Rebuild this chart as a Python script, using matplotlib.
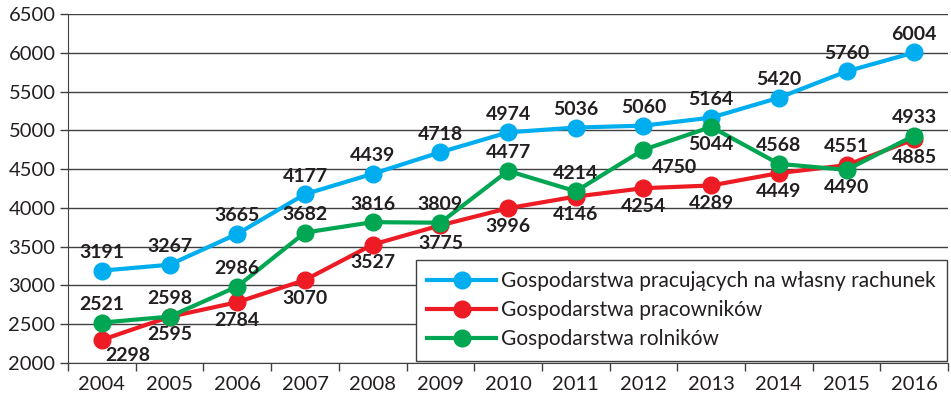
import matplotlib
matplotlib.use('Agg')
import matplotlib.pyplot as plt
import numpy as np

plt.rcParams['font.family'] = ['Lato', 'DejaVu Sans']

years = ['2004', '2005', '2006', '2007', '2008', '2009', '2010',
         '2011', '2012', '2013', '2014', '2015', '2016']
self_employed = [3191, 3267, 3665, 4177, 4439, 4718, 4974, 5036, 5060, 5164, 5420, 5760, 6004]
employees = [2298, 2595, 2784, 3070, 3527, 3775, 3996, 4146, 4254, 4289, 4449, 4551, 4885]
farmers = [2521, 2598, 2986, 3682, 3816, 3809, 4477, 4214, 4750, 5044, 4568, 4490, 4933]

names = ['Gospodarstwa pracujących na własny rachunek',
         'Gospodarstwa pracowników',
         'Gospodarstwa rolników']
colors = ['#00AEEF', '#ED1C24', '#00A651']

# label placement: (dx px, dy px) per point
pos_blue = [(0, 18)] * 13
pos_red = [(26, -16), (0, -18), (0, -18), (0, -18), (0, -18), (0, -18), (0, -18),
           (0, -18), (0, -18), (0, -18), (0, -18), (0, 19), (0, -18)]
pos_green = [(0, 18), (0, 18), (0, 18), (0, 18), (0, 18), (0, 18), (0, 18),
             (0, 18), (31, -18), (0, -18), (0, 18), (0, -18), (0, 18)]

fig = plt.figure(figsize=(9.51, 4.0), dpi=100)
ax = fig.add_axes([0.0715, 0.0925, 0.9255, 0.8725])

x = np.arange(len(years))
for vals, col, name in zip([self_employed, employees, farmers], colors, names):
    ax.plot(x, vals, color=col, lw=3, marker='o', markersize=12, label=name, zorder=3)
for vals, pos in zip([self_employed, employees, farmers], [pos_blue, pos_red, pos_green]):
    for xi, v, (dx, dy) in zip(x, vals, pos):
        ax.annotate(str(v), (xi, v), xytext=(dx * 0.72, dy * 0.72), textcoords='offset points',
                    ha='center', va='center', fontsize=14, fontweight='bold', color='#231F20',
                    zorder=4)

ax.set_xlim(-0.5, 12.5)
ax.set_ylim(2000, 6500)
ax.set_yticks(np.arange(2000, 6501, 500))
ax.set_xticks(x)
ax.set_xticklabels(years)
ax.set_xticks(np.arange(-0.5, 12.6, 1), minor=True)
ax.tick_params(axis='x', which='major', length=0, labelsize=14.5, pad=9, colors='#231F20')
ax.tick_params(axis='x', which='minor', length=6, width=1, color='#404040')
ax.tick_params(axis='y', length=6, width=1, labelsize=14.5, pad=3, color='#404040',
               labelcolor='#231F20')
ax.grid(axis='y', color='#404040', lw=1)
ax.set_axisbelow(True)
for s in ['top', 'right']:
    ax.spines[s].set_visible(False)
ax.spines['left'].set_color('#404040')
ax.spines['bottom'].set_color('#404040')

leg = ax.legend(loc='lower right', bbox_to_anchor=(0.996, 0.098), bbox_transform=fig.transFigure,
                fontsize=15, frameon=True, fancybox=False, handlelength=3.3,
                borderpad=0.55, labelspacing=0.43, handletextpad=0.25, borderaxespad=0)
leg.get_frame().set_edgecolor('#404040')
leg.get_frame().set_linewidth(1)
leg.get_frame().set_alpha(1)
for t in leg.get_texts():
    t.set_color('#231F20')

fig.savefig('out.png', dpi=100)
